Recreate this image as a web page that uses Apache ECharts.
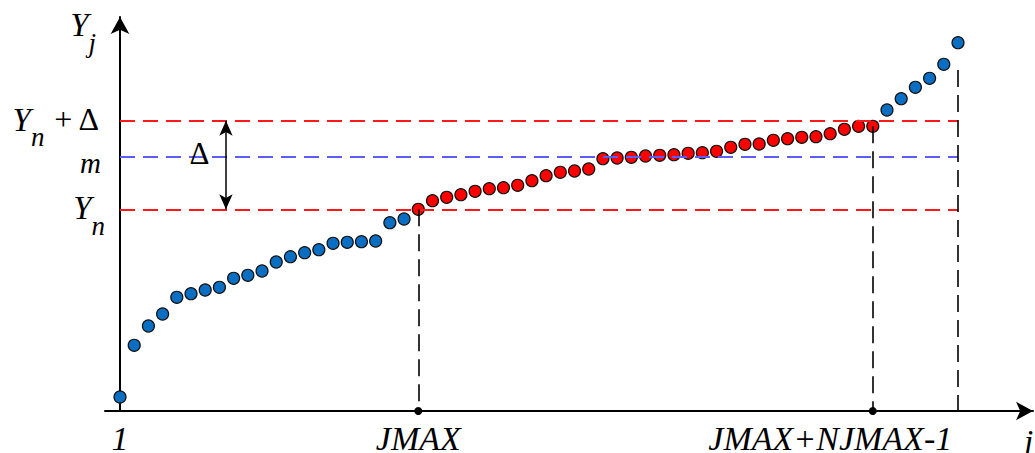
<!DOCTYPE html>
<html><head><meta charset="utf-8">
<script src="https://cdn.jsdelivr.net/npm/echarts@6/dist/echarts.min.js"></script>
<style>html,body{margin:0;padding:0;background:#fff}#c{width:1035px;height:453px}</style>
</head><body><div id="c"></div>
<script>
// ---- data ----
const J_MAX = 22;          // first index of the red window
const NJ_MAX = 33;         // number of points in the red window
const N_POINTS = 60;
const blueLow = [14, 65.7, 85, 97, 113.7, 117.3, 121, 123.7, 132.7, 135.7, 140, 149, 154.3, 158.3, 161.3, 167.7, 168.7, 169.3, 170, 188.3, 192];
const redWindow = [201.7, 210.3, 213.7, 216.3, 219.7, 222.3, 223.3, 225.7, 230.3, 235.3, 238.7, 240, 242, 252.3, 253, 253.7, 255, 255.7, 256.3, 257.7, 258.3, 259.7, 263.7, 266.7, 267, 270.7, 272.3, 273.7, 274.3, 277.3, 281.7, 284.7, 284.7];
const blueHigh = [301, 312.3, 323.7, 332.7, 346.7, 368.3];
const Y_N = 201.7, M_VAL = 254.5, Y_N_DELTA = 290.3;
const LAST_GUIDE_TOP = 341;       // top of the dashed guide at the last index
const DELTA_ARROW_J = 8.46;       // where the Δ double arrow stands
const DELTA_LABEL = [6.6, 258];
const xTickValues = [1, J_MAX, J_MAX + NJ_MAX - 1];
const xTickLabels = ['1', 'JMAX', 'JMAX+NJMAX-1'];
const yTickValues = [Y_N, M_VAL, Y_N_DELTA];
const yTickLabels = ['{Y|Y}{sub|n}', '{m|m}', '{Y|Y}{sub|n}{op| + Δ}'];

// ---- build ----
const X_MIN = -0.056, X_MAX = 65.28, Y_MAX = 394;
const blueData1 = blueLow.map((v, i) => [1 + i, v]);
const redData = redWindow.map((v, i) => [J_MAX + i, v]);
const blueData2 = blueHigh.map((v, i) => [J_MAX + NJ_MAX + i, v]);
const J_END = J_MAX + NJ_MAX - 1;
const yLabelPads = [[0, 0, 20, 0], [0, 0, 6, 0], [0, 0, 20, 0]];

function buildOption(FONT) {
  const rich = {
    Y: {fontFamily: FONT, fontStyle: 'italic', fontSize: 33, lineHeight: 24, verticalAlign: 'top', padding: [4.5, 0, 0, 0], color: '#000'},
    sub: {fontFamily: FONT, fontStyle: 'italic', fontSize: 27, lineHeight: 20, verticalAlign: 'top', padding: [25, 0, 0, 0], color: '#000'},
    op: {fontFamily: FONT, fontSize: 32, lineHeight: 24, verticalAlign: 'top', color: '#000', padding: [4.5, 6, 0, 0]},
    m: {fontFamily: FONT, fontStyle: 'italic', fontSize: 29, lineHeight: 10, verticalAlign: 'top', padding: [0, 4, 0, 0], color: '#000'}
  };
  const xRich = {
    s: {fontFamily: FONT, fontStyle: 'italic', fontSize: 34, color: '#000', padding: [0, 85, 0, 0]}
  };
  const pointStyle = (c) => ({color: c, borderColor: '#111', borderWidth: 1.2, opacity: 1});
  const hLine = (y, color) => [{coord: [1, y], lineStyle: {color}}, {coord: [N_POINTS, y]}];
  const vLine = (x, yTop) => [{coord: [x, yTop]}, {coord: [x, 0]}];
  return {
    backgroundColor: '#fff',
    animation: false,
    grid: {left: 105, right: 2, top: 17, bottom: 42, containLabel: false, outerBoundsMode: 'none'},
    xAxis: {
      type: 'value', min: X_MIN, max: X_MAX,
      splitLine: {show: false}, axisTick: {show: false},
      axisLine: {onZero: false, lineStyle: {color: '#000', width: 2}, symbol: ['none', 'arrow'], symbolSize: [14, 17]},
      axisLabel: {
        customValues: xTickValues, margin: 10, hideOverlap: false,
        formatter: (v) => {
          const i = xTickValues.indexOf(v);
          if (i < 0) return '';
          return i === xTickValues.length - 1 ? '{s|' + xTickLabels[i] + '}' : xTickLabels[i];
        },
        fontFamily: FONT, fontStyle: 'italic', fontSize: 34, color: '#000', rich: xRich
      },
      name: 'j', nameLocation: 'end', nameGap: -9,
      nameTextStyle: {fontFamily: FONT, fontStyle: 'italic', fontSize: 33, color: '#000', align: 'left', verticalAlign: 'top', padding: [14, 0, 0, 0]}
    },
    yAxis: {
      type: 'value', min: 0, max: Y_MAX, offset: -15,
      splitLine: {show: false}, axisTick: {show: false}, axisLabel: {show: false},
      axisLine: {onZero: false, lineStyle: {color: '#000', width: 2}, symbol: ['none', 'arrow'], symbolSize: [14, 17]},
      name: '{Y|Y}{sub|j}', nameLocation: 'end', nameGap: 1,
      nameTextStyle: {align: 'right', verticalAlign: 'middle', padding: [0, 24, 0, 0], rich: rich}
    },
    series: [
      {
        type: 'scatter', name: 'guides', data: [], z: 1, silent: true,
        markLine: {
          silent: true, symbol: ['none', 'none'], label: {show: false}, animation: false,
          lineStyle: {type: [15, 8], width: 2},
          data: [hLine(Y_N, '#ff1a1a'), hLine(M_VAL, '#5c5cff'), hLine(Y_N_DELTA, '#ff1a1a')]
        }
      },
      {
        type: 'scatter', name: 'drops', data: [], z: 1, silent: true,
        markLine: {
          silent: true, symbol: ['none', 'none'], label: {show: false}, animation: false,
          lineStyle: {type: [17, 8], width: 1.6, color: '#000'},
          data: [vLine(J_MAX, Y_N), vLine(J_END, redWindow[redWindow.length - 1]), vLine(N_POINTS, LAST_GUIDE_TOP)]
        }
      },
      {
        type: 'scatter', name: 'delta', data: [], z: 1, silent: true,
        markLine: {
          silent: true, symbol: ['arrow', 'arrow'], symbolSize: [10, 15], label: {show: false}, animation: false,
          lineStyle: {type: 'solid', width: 1.5, color: '#000'},
          data: [[{coord: [DELTA_ARROW_J, Y_N]}, {coord: [DELTA_ARROW_J, Y_N_DELTA]}]]
        },
        markPoint: {
          silent: true, symbol: 'circle', symbolSize: 0, animation: false,
          label: {show: true, formatter: 'Δ', fontFamily: FONT, fontSize: 31, color: '#000', position: 'inside'},
          data: [{coord: DELTA_LABEL}]
        }
      },
      {
        type: 'scatter', name: 'y tick labels', data: [], z: 5, silent: true,
        markPoint: {
          silent: true, symbol: 'circle', symbolSize: 0, animation: false,
          label: {show: true, position: 'left', distance: 0, rich: rich,
            formatter: (p) => yTickLabels[p.dataIndex]},
          data: yTickValues.map((v, i) => ({coord: [X_MIN, v], label: {padding: yLabelPads[i]}}))
        }
      },
      {type: 'scatter', name: 'axis marks', data: [[J_MAX, 0], [J_END, 0]], symbolSize: 8, clip: false, z: 3, silent: true, itemStyle: {color: '#000', opacity: 1}},
      {type: 'scatter', name: 'Y low', data: blueData1, symbolSize: 12, clip: false, z: 4, itemStyle: pointStyle('#0a6fc2')},
      {type: 'scatter', name: 'Y window', data: redData, symbolSize: 12, clip: false, z: 4, itemStyle: pointStyle('#ff0000')},
      {type: 'scatter', name: 'Y high', data: blueData2, symbolSize: 12, clip: false, z: 4, itemStyle: pointStyle('#0a6fc2')}
    ]
  };
}

const SERIF = 'Liberation Serif, DejaVu Serif, Noto Serif, Times New Roman, serif';
const chart = echarts.init(document.getElementById('c'), null, {renderer: 'svg'});
chart.setOption(buildOption(SERIF), true);
let finalDone = false;
function finalRender() {
  if (finalDone) return;
  finalDone = true;
  // a different family string so text widths measured before the font was ready are not reused
  chart.setOption(buildOption(SERIF + ', Georgia'), true);
}
if (document.fonts && document.fonts.load) {
  Promise.all([
    document.fonts.load('italic 33px "Liberation Serif"', 'JMAXYnmj'),
    document.fonts.load('33px "Liberation Serif"', '+Δ')
  ]).then(() => document.fonts.ready).then(finalRender, finalRender);
  setTimeout(finalRender, 400);
} else {
  finalRender();
}
</script></body></html>
